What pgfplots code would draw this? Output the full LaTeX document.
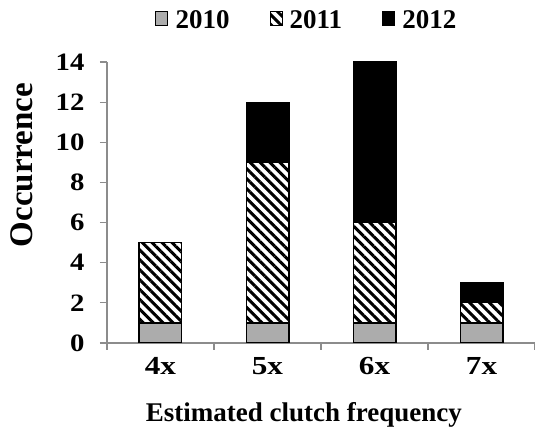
\documentclass[border=0pt]{standalone}
\usepackage{fontspec}
\setmainfont{Liberation Serif}
\usepackage{pgfplots}
\pgfplotsset{compat=1.18}
\usetikzlibrary{patterns.meta}
\definecolor{gbar}{RGB}{172,172,172}
\definecolor{axgray}{RGB}{140,140,140}
\begin{document}
\begin{tikzpicture}
\begin{axis}[
 name=ax, at={(0,0)}, anchor=south west,
 scale only axis, width=428pt, height=281pt,
 ybar stacked, bar width=0.4,
 xmin=-0.5, xmax=3.5, ymin=0, ymax=14,
 axis lines*=left,
 axis line style={draw=axgray, line width=1.2pt},
 xtick={0,1,2,3}, xticklabels={4x,5x,6x,7x},
 major x tick style={draw=none},
 minor xtick={-0.5,0.5,1.5,2.5,3.5},
 minor x tick style={draw=axgray, line width=1.2pt},
 ytick={0,2,...,14},
 y tick style={draw=axgray, line width=1.2pt},
 tick align=outside,
 major tick length=7pt, minor tick length=7pt,
 /pgf/number format/assume math mode=true,
 xticklabel style={font=\fontsize{26}{30}\selectfont\bfseries, xscale=1.2, yshift=-4pt},
 yticklabel style={font=\fontsize{25}{28}\selectfont\bfseries, xscale=1.15, xshift=-10pt},
 xlabel={Estimated clutch frequency},
 xlabel style={font=\fontsize{27}{32}\selectfont\bfseries, at={(axis description cs:0.46,-0.256)}, anchor=center},
 ylabel={Occurrence},
 ylabel style={font=\fontsize{33}{38}\selectfont\bfseries, at={(axis description cs:-0.1986,0.633)}, anchor=center},
 legend entries={2010,2011,2012},
 legend columns=3,
 legend style={draw=none, fill=none, at={(0.467,1)}, anchor=south, yshift=28pt,
   font=\fontsize{27}{31}\selectfont\bfseries,
   /tikz/every even column/.append style={column sep=38pt}},
 legend image code/.code={\draw[#1, line width=1pt] (0pt,-5pt) rectangle (12pt,9pt); \path (17pt,0pt);},
]
\addplot[fill=gbar, draw=black, line width=1.2pt] coordinates {(0,1) (1,1) (2,1) (3,1)};
\addplot[pattern={Lines[angle=-45,distance=7pt,line width=3pt]}, draw=black, line width=1.2pt] coordinates {(0,4) (1,8) (2,5) (3,1)};
\addplot[fill=black, draw=black, line width=1.2pt] coordinates {(0,0) (1,3) (2,8) (3,1)};
\end{axis}
\pgfresetboundingbox
\path[use as bounding box] (-107pt,-84pt) rectangle (428pt,343pt);
\end{tikzpicture}
\end{document}
